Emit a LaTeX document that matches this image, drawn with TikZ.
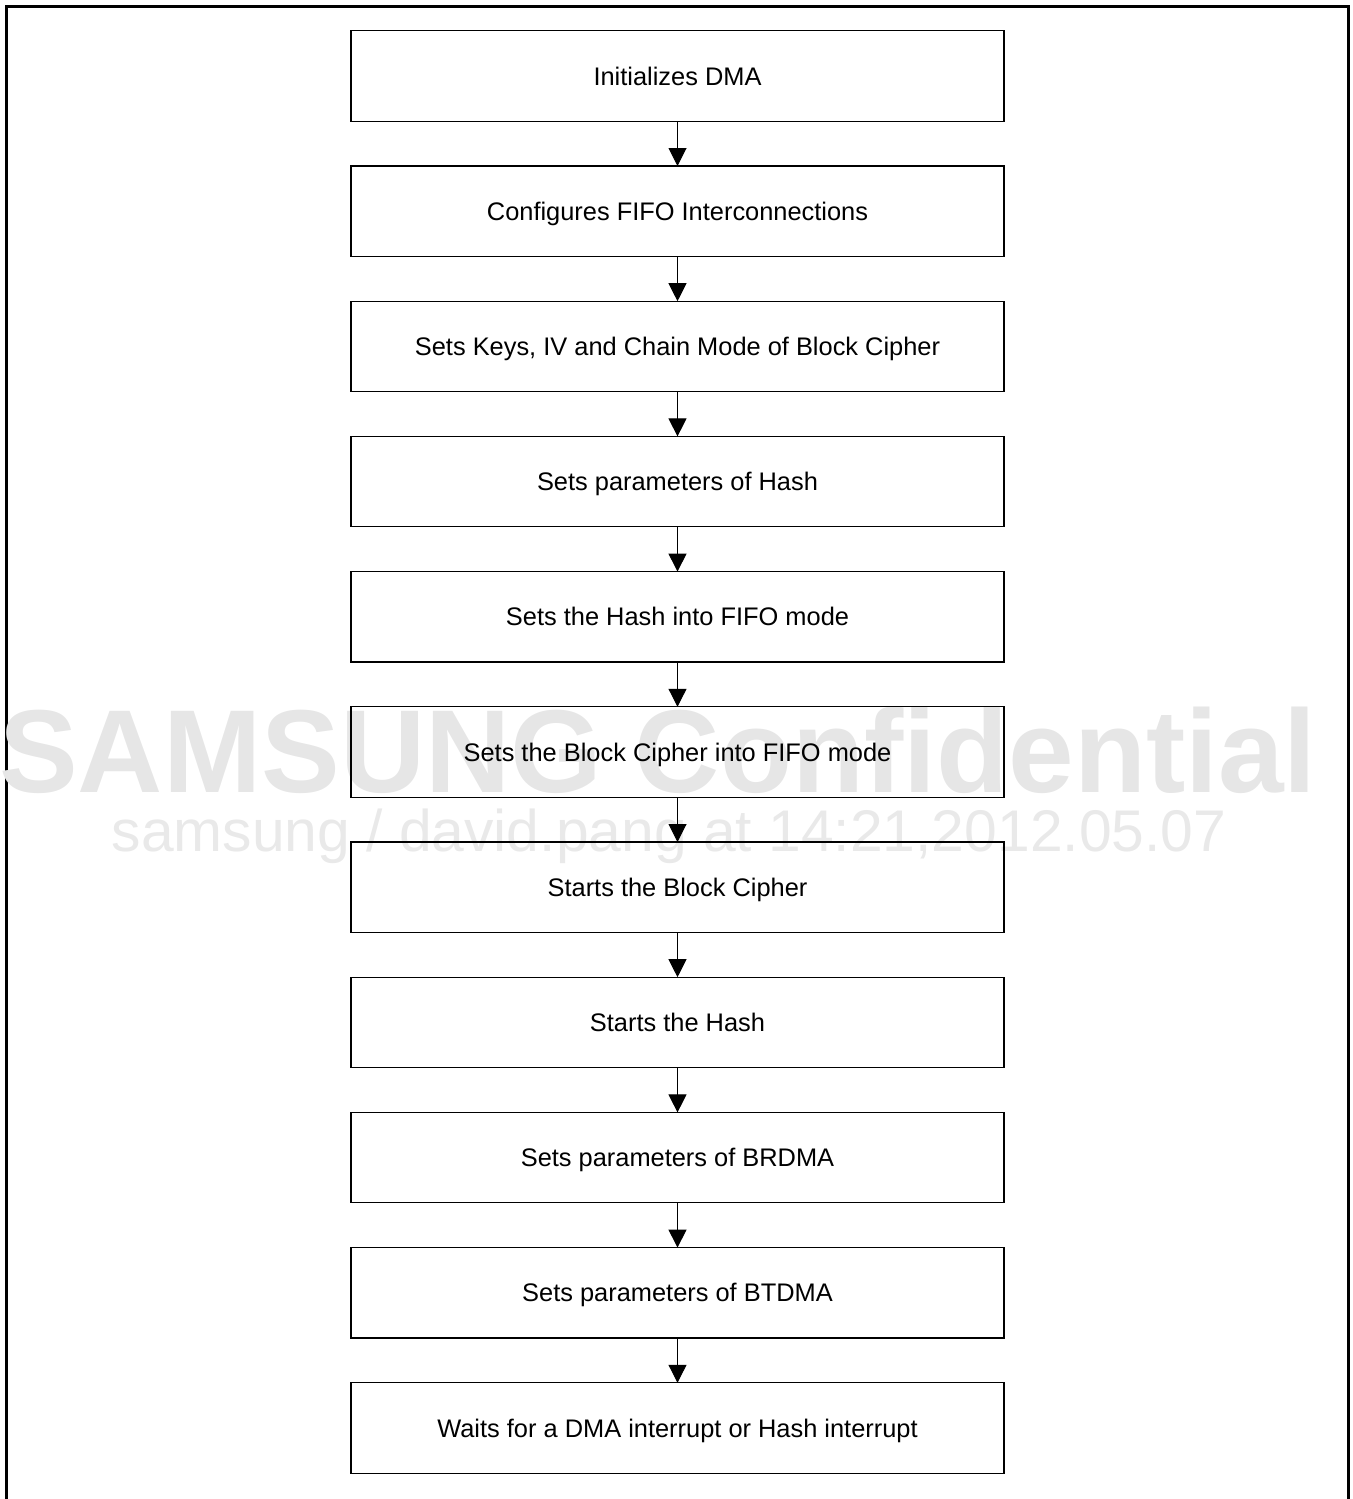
\documentclass[tikz,border=0pt]{standalone}
\usepackage{fontspec}
\setmainfont{Liberation Sans}
\usepackage{xcolor}
\usepackage{tikz}
\usetikzlibrary{arrows.meta,positioning}
\definecolor{ink}{HTML}{000000}
\definecolor{mark}{HTML}{E6E6E6}
\definecolor{marklight}{HTML}{E9E9E9}

\begin{document}
\begin{tikzpicture}[
      x=0.5pt, y=-0.5pt,
      stepbox/.style={draw=ink, line width=0.6pt, minimum width=326.5pt, minimum height=45.2pt, inner sep=0pt, outer sep=0pt,
        text height=9.1pt, text depth=0pt, align=center, font=\fontsize{12.7}{15}\selectfont},
      arr/.style={-{Triangle[length=9pt, width=9pt]}, draw=ink, line width=0.5pt}
    ]
    \useasboundingbox (0,0) rectangle (1353,1499);
    % frame, open at the bottom
    \draw[ink, line width=1.5pt] (6,1505) -- (6,6) -- (1348,6) -- (1348,1505);

    % watermark
    \node[anchor=base, inner sep=0pt, text=mark, font=\fontsize{59}{60}\selectfont\bfseries] (wmbig) at (658,792) {SAMSUNG Confidential};
    \node[anchor=base, inner sep=0pt, text=marklight, font=\fontsize{29.4}{30}\selectfont] (wmsmall) at (669,851) {samsung / david.pang at 14:21,2012.05.07};

    \node[stepbox] (init) at (677.5,76) {Initializes DMA};
    \node[stepbox, below=22.4pt of init] (fifo) {Configures FIFO Interconnections};
    \node[stepbox, below=22.4pt of fifo] (keys) {Sets Keys, IV and Chain Mode of Block Cipher};
    \node[stepbox, below=22.4pt of keys] (hashpar) {Sets parameters of Hash};
    \node[stepbox, below=22.4pt of hashpar] (hashfifo) {Sets the Hash into FIFO mode};
    \node[stepbox, below=22.4pt of hashfifo] (ciphfifo) {Sets the Block Cipher into FIFO mode};
    \node[stepbox, below=22.4pt of ciphfifo] (ciphstart) {Starts the Block Cipher};
    \node[stepbox, below=22.4pt of ciphstart] (hashstart) {Starts the Hash};
    \node[stepbox, below=22.4pt of hashstart] (brdma) {Sets parameters of BRDMA};
    \node[stepbox, below=22.4pt of brdma] (btdma) {Sets parameters of BTDMA};
    \node[stepbox, below=22.4pt of btdma] (waitirq) {Waits for a DMA interrupt or Hash interrupt};

    \draw[arr] (init) -- (fifo);
    \draw[arr] (fifo) -- (keys);
    \draw[arr] (keys) -- (hashpar);
    \draw[arr] (hashpar) -- (hashfifo);
    \draw[arr] (hashfifo) -- (ciphfifo);
    \draw[arr] (ciphfifo) -- (ciphstart);
    \draw[arr] (ciphstart) -- (hashstart);
    \draw[arr] (hashstart) -- (brdma);
    \draw[arr] (brdma) -- (btdma);
    \draw[arr] (btdma) -- (waitirq);
  \end{tikzpicture}
\end{document}
